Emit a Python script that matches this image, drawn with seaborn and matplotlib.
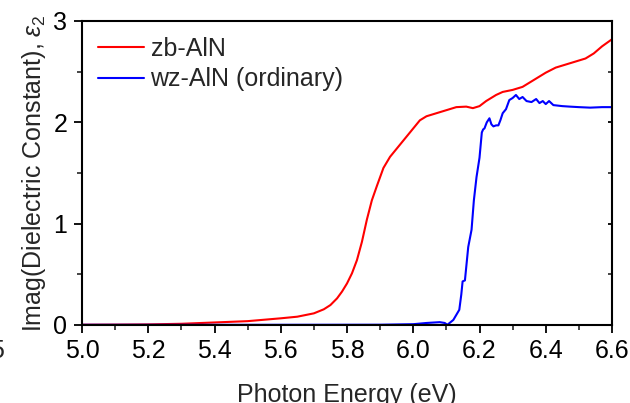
import matplotlib
matplotlib.use("Agg")
import matplotlib.pyplot as plt
from matplotlib.ticker import MultipleLocator
import numpy as np
import pandas as pd
import seaborn as sns

# zb-AlN
zb_energy = [5.0, 5.1, 5.2, 5.3, 5.4, 5.5, 5.6, 5.65, 5.7, 5.73, 5.75, 5.77,
             5.785, 5.8, 5.815, 5.83, 5.845, 5.86, 5.875, 5.89, 5.91, 5.93, 5.95,
             5.98, 6.005, 6.02, 6.04, 6.06, 6.09, 6.13, 6.16, 6.18, 6.2, 6.22,
             6.25, 6.27, 6.3, 6.33, 6.36, 6.38, 6.4, 6.43, 6.46, 6.49, 6.52,
             6.545, 6.57, 6.6]
zb_eps2 = [0.003, 0.004, 0.006, 0.012, 0.025, 0.038, 0.066, 0.082, 0.115, 0.155,
           0.197, 0.263, 0.33, 0.41, 0.51, 0.64, 0.82, 1.04, 1.23, 1.37, 1.55,
           1.66, 1.74, 1.86, 1.96, 2.02, 2.06, 2.08, 2.11, 2.15, 2.155, 2.14,
           2.16, 2.21, 2.27, 2.3, 2.32, 2.35, 2.41, 2.45, 2.49, 2.54, 2.57,
           2.6, 2.63, 2.68, 2.75, 2.82]

# wz-AlN (ordinary)
wz_energy = [5.0, 5.5, 5.9, 6.0, 6.04, 6.08, 6.095, 6.103, 6.121, 6.139, 6.145,
             6.149, 6.156, 6.166, 6.176, 6.183, 6.191, 6.2, 6.207, 6.211, 6.215,
             6.222, 6.23, 6.236, 6.242, 6.25, 6.257, 6.263, 6.27, 6.28, 6.29, 6.3,
             6.31, 6.32, 6.33, 6.342, 6.357, 6.371, 6.381, 6.391, 6.4, 6.41,
             6.423, 6.45, 6.473, 6.5, 6.534, 6.57, 6.6]
wz_eps2 = [0.002, 0.002, 0.003, 0.008, 0.02, 0.028, 0.02, 0.002, 0.05, 0.15, 0.3,
           0.43, 0.44, 0.77, 0.94, 1.23, 1.46, 1.65, 1.9, 1.93, 1.94, 2.0, 2.04,
           1.98, 1.96, 1.97, 1.97, 2.02, 2.09, 2.13, 2.22, 2.24, 2.27, 2.23, 2.25,
           2.21, 2.2, 2.23, 2.19, 2.21, 2.18, 2.21, 2.17, 2.16, 2.155, 2.15,
           2.145, 2.15, 2.15]

series_names = ["zb-AlN", "wz-AlN (ordinary)"]
series_colors = ["#ff0000", "#0000ff"]

x_ticks = [5.0, 5.2, 5.4, 5.6, 5.8, 6.0, 6.2, 6.4, 6.6]
y_ticks = [0, 1, 2, 3]

df = pd.concat([
    pd.DataFrame({"E": zb_energy, "eps2": zb_eps2, "series": series_names[0]}),
    pd.DataFrame({"E": wz_energy, "eps2": wz_eps2, "series": series_names[1]}),
], ignore_index=True)

sns.set_style("ticks")
plt.rcParams["font.family"] = ["Liberation Sans", "DejaVu Sans"]
plt.rcParams["mathtext.fontset"] = "custom"
plt.rcParams["mathtext.rm"] = "Liberation Sans"
plt.rcParams["mathtext.it"] = "Liberation Sans:italic"

fig = plt.figure(figsize=(6.3, 4.03), dpi=100)
ax = fig.add_axes([82 / 630, 1 - 325 / 403, 530 / 630, 304 / 403])

sns.lineplot(data=df, x="E", y="eps2", hue="series", hue_order=series_names,
             palette=series_colors, linewidth=1.5, sort=False, ax=ax,
             estimator=None)

ax.set_xlim(5.0, 6.6)
ax.set_ylim(0, 3)
ax.set_xticks(x_ticks)
ax.set_xticklabels([f"{v:.1f}" for v in x_ticks])
ax.set_yticks(y_ticks)
ax.set_yticklabels([str(v) for v in y_ticks])
ax.xaxis.set_minor_locator(MultipleLocator(0.1))
ax.yaxis.set_minor_locator(MultipleLocator(0.5))

for s in ax.spines.values():
    s.set_visible(True)
    s.set_linewidth(1.5)
    s.set_color("black")

ax.tick_params(axis="both", which="major", direction="out", length=6, width=1.3,
               labelsize=18, colors="black")
ax.tick_params(axis="both", which="minor", direction="out", length=3.5, width=1.2)
ax.tick_params(axis="x", which="major", pad=3.8)
ax.tick_params(axis="y", which="major", pad=4.5)
ax.tick_params(axis="y", which="both", right=True, labelright=False)
for t in ax.yaxis.get_major_ticks() + ax.yaxis.get_minor_ticks():
    t.tick2line.set_marker(matplotlib.lines.TICKLEFT)
    t.tick2line.set_markersize(3)

ax.set_xlabel("Photon Energy (eV)", fontsize=18, labelpad=15)
ax.set_ylabel(r"Imag(Dielectric Constant), $\varepsilon_2$", fontsize=18, labelpad=4)

leg = ax.legend(loc="upper left", bbox_to_anchor=(16 / 530, 0.949), frameon=False,
                fontsize=18, handlelength=1.85, handletextpad=0.25,
                labelspacing=0.27, borderaxespad=0.0, borderpad=0.0)
for h in leg.get_lines():
    h.set_linewidth(1.5)

fig.text(3.5 / 630, 1 - 351 / 403, "5", fontsize=18, ha="right", va="center")

fig.savefig("out.png", dpi=100)
